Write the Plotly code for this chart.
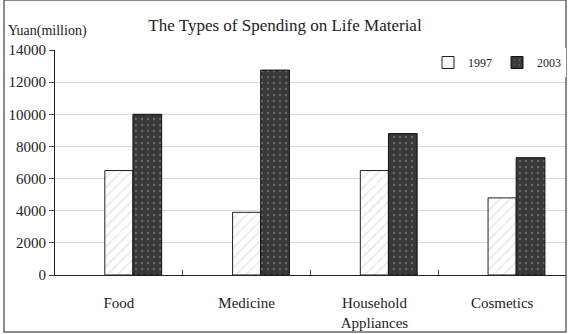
import plotly.graph_objects as go

categories = ["Food", "Medicine", "Household<br>Appliances", "Cosmetics"]
values_1997 = [6500, 3900, 6500, 4800]
values_2003 = [10000, 12750, 8800, 7300]
series_names = ["1997", "2003"]
y_ticks = [0, 2000, 4000, 6000, 8000, 10000, 12000, 14000]
y_tick_labels = [str(v) for v in y_ticks]

FONT = "Liberation Serif, Times New Roman, serif"

W, H = 568, 334
L, R, T, B = 55, 2, 50, 59
pw, ph = W - L - R, H - T - B

def px_x(x):
    return (x - L) / pw

def px_y(y):
    return (H - B - y) / ph

fig = go.Figure()
fig.add_trace(go.Bar(
    x=categories, y=values_1997, name=series_names[0],
    offset=-0.11, width=0.22,
    marker=dict(color="white", line=dict(color="#222", width=1),
                pattern=dict(shape="/", fgcolor="#d4d4d4", bgcolor="white",
                             size=7, solidity=0.25)),
))
fig.add_trace(go.Bar(
    x=categories, y=values_2003, name=series_names[1],
    offset=0.11, width=0.225,
    marker=dict(color="#383838", line=dict(color="#111", width=1),
                pattern=dict(shape=".", fgcolor="#9a9a9a", bgcolor="#383838",
                             size=6, solidity=0.12)),
))

fig.update_layout(
    width=W, height=H,
    margin=dict(l=L, r=R, t=T, b=B),
    paper_bgcolor="white", plot_bgcolor="white",
    barmode="overlay",
    font=dict(family=FONT, size=13, color="#222"),
    title=dict(text="The Types of Spending on Life Material",
               xref="container", x=285 / W, xanchor="center",
               yref="container", y=1 - 25 / H, yanchor="middle",
               font=dict(family=FONT, size=17, color="#222")),
    showlegend=True,
    legend=dict(orientation="h", x=1.0, xanchor="right", y=px_y(48), yanchor="top",
                bgcolor="white", font=dict(family=FONT, size=12, color="#222"),
                itemwidth=30, tracegroupgap=0),
    xaxis=dict(showline=True, linecolor="#222", linewidth=1,
               ticks="inside", tickson="boundaries", ticklen=5, tickcolor="#444",
               showgrid=False, ticklabelstandoff=14,
               tickfont=dict(family=FONT, size=15, color="#222")),
    yaxis=dict(range=[0, 14000], tickvals=y_ticks, ticktext=y_tick_labels,
               showline=True, linecolor="#222",
               linewidth=1, ticks="outside", ticklen=5, tickcolor="#444",
               gridcolor="#d9d9d9", gridwidth=1, zeroline=False,
               tickfont=dict(family=FONT, size=15, color="#222")),
    annotations=[dict(text="Yuan(million)", xref="paper", yref="paper",
                      x=px_x(6), y=px_y(31), xanchor="left", yanchor="middle",
                      showarrow=False, font=dict(family=FONT, size=14, color="#222"))],
    shapes=[dict(type="rect", xref="paper", yref="paper",
                 x0=px_x(4), x1=px_x(566), y0=px_y(332), y1=px_y(0),
                 line=dict(color="#666", width=1.5), layer="above")],
)

fig.write_html("out.html")
